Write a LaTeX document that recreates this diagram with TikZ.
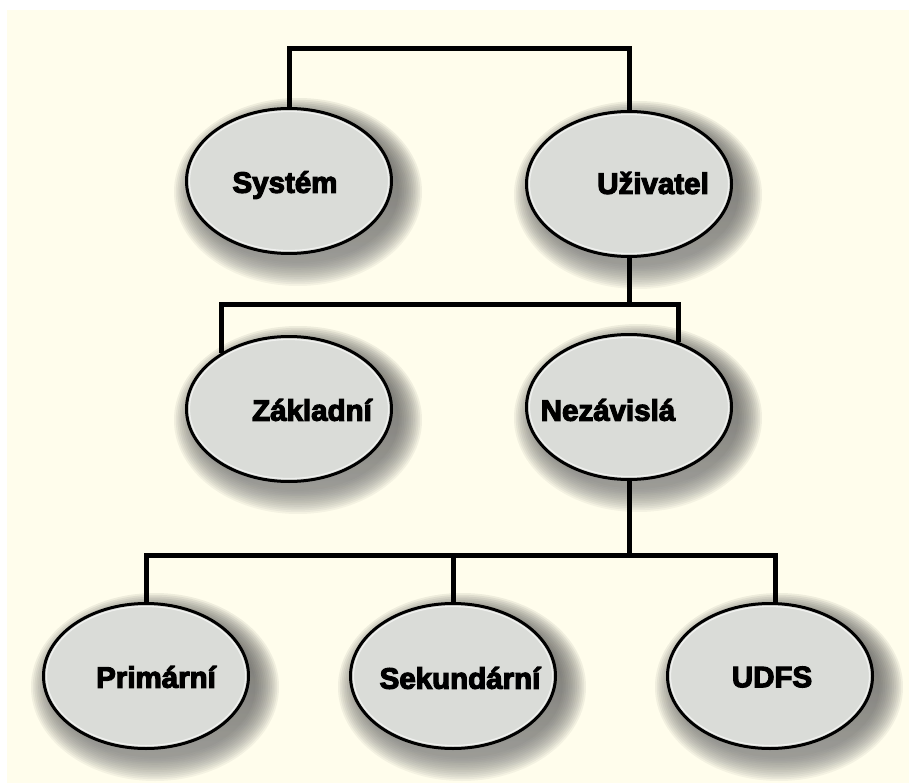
\documentclass[tikz,border=0pt]{standalone}
\usepackage{fontspec}
\newfontfamily\lblfont[FakeBold=4]{Liberation Sans Bold}
\usetikzlibrary{shapes.geometric,calc,backgrounds}
\definecolor{paper}{RGB}{255,253,236}
\definecolor{bubble}{RGB}{218,220,216}
\definecolor{shade}{RGB}{165,125,80}
\tikzset{
  fsnode/.style={ellipse, draw=black, line width=3pt, fill=bubble,
    minimum width=205pt, minimum height=145pt, inner sep=0pt},
  fslabel/.style={font=\lblfont\fontsize{29.5}{32}\selectfont, inner sep=0pt, text=black},
  link/.style={line width=5pt, draw=black, line join=miter},
}
\begin{document}
\begin{tikzpicture}[x=1pt,y=-1pt]
  \useasboundingbox (0,0) rectangle (909,783);

  % file system tree
  \node[fsnode] (sys)  at (289,181) {};
  \node[fsnode] (uziv) at (629,184) {};
  \node[fsnode] (zak)  at (289,409) {};
  \node[fsnode] (nez)  at (629,407) {};
  \node[fsnode] (prim) at (146,676) {};
  \node[fsnode] (sek)  at (453,676) {};
  \node[fsnode] (udfs) at (770,676) {};

  % paper and soft shadows behind the bubbles
  \begin{scope}[on background layer]
    \fill[white] (0,0) rectangle (909,783);
    \fill[paper] (7,10) rectangle (909,783);
    \foreach \n in {sys,uziv,zak,nez,prim,sek,udfs}{
      \foreach \k in {0,...,13}{
        \fill[shade, opacity=0.045] ($(\n.center)+(9,11)$)
          ellipse [x radius={124-1.8*\k}, y radius={94-1.8*\k}];
      }
    }
  \end{scope}
  % light inner rims
  \foreach \n in {sys,uziv,zak,nez,prim,sek,udfs}{
    \draw[white, opacity=0.6, line width=1.2pt] (\n.center)
      ellipse [x radius=99.5, y radius=69.5];
  }

  % labels
  \node[fslabel] (tsys)  at (285,185) {Systém};
  \node[fslabel] (tuziv) at (653,183) {Uživatel};
  \node[fslabel] (tzak)  at (312,410) {Základní};
  \node[fslabel] (tnez)  at (608,410) {Nezávislá};
  \node[fslabel] (tprim) at (156,677) {Primární};
  \node[fslabel] (tsek)  at (460,678) {Sekundární};
  \node[fslabel] (tudfs) at (772,677) {UDFS};

  % bus levels
  \coordinate (b1) at (0,49);
  \coordinate (b2) at (0,304);
  \coordinate (b3) at (0,555);

  % connectors
  \draw[link] (sys.north) |- (uziv.north |- b1) -- (uziv.north);
  \draw[link] (uziv.south) -- (uziv.south |- b2);
  \draw[link] (zak.140) |- (nez.53 |- b2) -- (nez.53);
  \draw[link] (nez.south) -- (nez.south |- b3);
  \draw[link] (prim.north) |- (udfs.86 |- b3) -- (udfs.86);
  \draw[link] (sek.north) -- (sek.north |- b3);
\end{tikzpicture}
\end{document}
